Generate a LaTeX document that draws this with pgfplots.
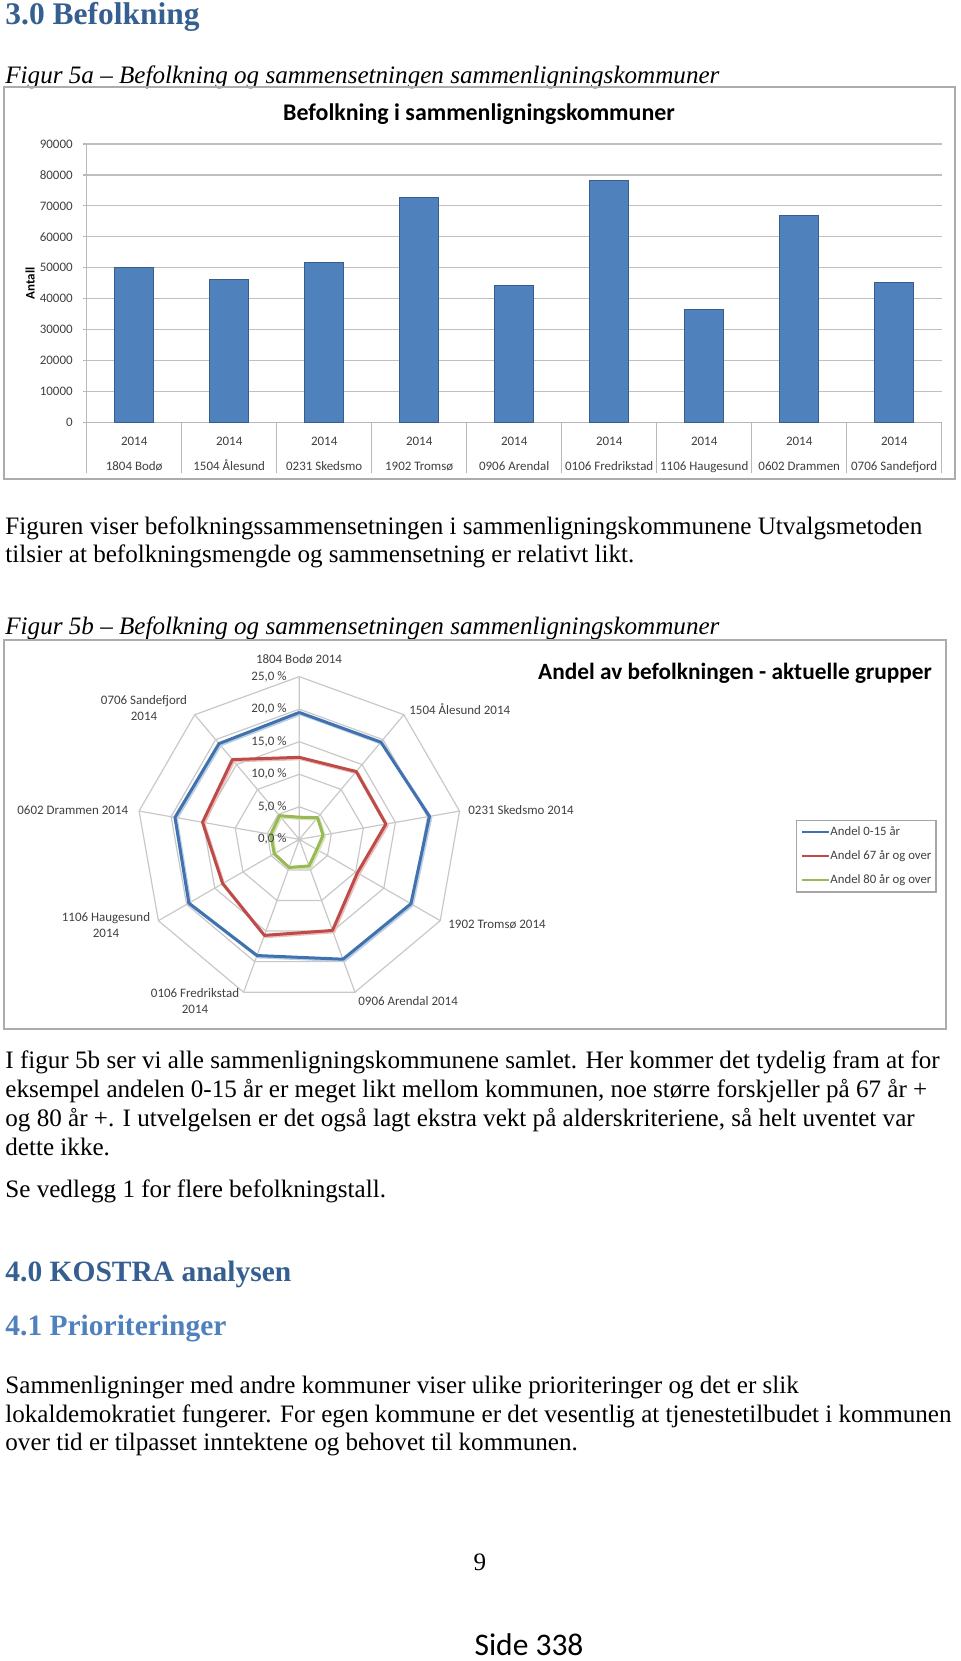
\documentclass[border=0pt]{standalone}
\usepackage{fontspec}
\setmainfont{Liberation Serif}
\newfontfamily\calibri{Carlito}
\usepackage{pgfplots}
\pgfplotsset{compat=1.18}
\definecolor{hone}{HTML}{365F91}
\definecolor{htwo}{HTML}{4F81BD}
\definecolor{barfill}{HTML}{4F81BD}
\definecolor{barline}{HTML}{385D8A}
\definecolor{sblue}{HTML}{3F72AF}
\definecolor{sred}{HTML}{BE4B48}
\definecolor{sgreen}{HTML}{98B954}
\definecolor{lgray}{HTML}{C8C8C8}
\definecolor{labgray}{HTML}{404040}
\newcommand{\bodyf}{\fontsize{12.6}{15}\selectfont}
\newcommand{\smallc}{\calibri\fontsize{6.5}{7}\selectfont}
\begin{document}
\begin{tikzpicture}[x=0.5bp,y=-0.5bp]
\useasboundingbox (0,0) rectangle (960,1661);
% ---------- page text ----------
\node[anchor=base west, inner sep=0, text=hone] at (5,24) {\fontsize{15.8}{18}\selectfont\bfseries 3.0 Befolkning};
\node[anchor=base west, inner sep=0] at (5,83) {\bodyf\itshape Figur 5a – Befolkning og sammensetningen sammenligningskommuner};
\node[anchor=base west, inner sep=0] at (5,534) {\bodyf Figuren viser befolkningssammensetningen i sammenligningskommunene Utvalgsmetoden};
\node[anchor=base west, inner sep=0] at (5,562) {\bodyf tilsier at befolkningsmengde og sammensetning er relativt likt.};
\node[anchor=base west, inner sep=0] at (5,634) {\bodyf\itshape Figur 5b – Befolkning og sammensetningen sammenligningskommuner};
\node[anchor=base west, inner sep=0] at (5,1068) {\bodyf I figur 5b ser vi alle sammenligningskommunene samlet. Her kommer det tydelig fram at for};
\node[anchor=base west, inner sep=0] at (5,1097) {\bodyf eksempel andelen 0-15 år er meget likt mellom kommunen, noe større forskjeller på 67 år +};
\node[anchor=base west, inner sep=0] at (5,1126) {\bodyf og 80 år +. I utvelgelsen er det også lagt ekstra vekt på alderskriteriene, så helt uventet var};
\node[anchor=base west, inner sep=0] at (5,1155) {\bodyf dette ikke.};
\node[anchor=base west, inner sep=0] at (5,1197) {\bodyf Se vedlegg 1 for flere befolkningstall.};
\node[anchor=base west, inner sep=0, text=hone] at (5,1281) {\fontsize{14.8}{18}\selectfont\bfseries 4.0 KOSTRA analysen};
\node[anchor=base west, inner sep=0, text=htwo] at (5,1335) {\fontsize{14.8}{17}\selectfont\bfseries 4.1 Prioriteringer};
\node[anchor=base west, inner sep=0] at (5,1393) {\bodyf Sammenligninger med andre kommuner viser ulike prioriteringer og det er slik};
\node[anchor=base west, inner sep=0] at (5,1422) {\bodyf lokaldemokratiet fungerer. For egen kommune er det vesentlig at tjenestetilbudet i kommunen};
\node[anchor=base west, inner sep=0] at (5,1450) {\bodyf over tid er tilpasset inntektene og behovet til kommunen.};
\node[anchor=base, inner sep=0] at (480,1570) {\bodyf 9};
\node[anchor=base, inner sep=0] at (529,1655) {\calibri\fontsize{15.8}{18}\selectfont Side 338};
% ---------- figure 5a ----------
\draw[gray!65, line width=0.75bp] (4,87) rectangle (955,479);
\node[inner sep=0] at (479,114) {\calibri\fontsize{12}{14}\selectfont\bfseries Befolkning i sammenligningskommuner};
\begin{axis}[
  at={(43.35bp,-211.15bp)}, anchor=south west, scale only axis,
  width=427.5bp, height=139.15bp,
  xmin=0, xmax=9, ymin=0, ymax=90000,
  axis x line*=bottom, axis y line*=left,
  axis line style={gray!55, line width=0.6bp},
  ytick={0,10000,...,90000}, ymajorgrids,
  major grid style={gray!50, line width=0.6bp},
  scaled y ticks=false,
  /pgf/number format/assume math mode=true,
  /pgf/number format/fixed, /pgf/number format/1000 sep={},
  yticklabel style={font=\smallc, text=labgray, xshift=-1.5bp},
  ytick style={gray!55, line width=0.6bp},
  tick align=outside, major tick length=2bp,
  xtick={0.5,1.5,...,8.5},
  xtick style={draw=none},
  xticklabels={{2014\\1804 Bodø},{2014\\1504 Ålesund},{2014\\0231 Skedsmo},{2014\\1902 Tromsø},{2014\\0906 Arendal},{2014\\0106 Fredrikstad},{2014\\1106 Haugesund},{2014\\0602 Drammen},{2014\\0706 Sandefjord}},
  xticklabel style={align=center, font=\calibri\fontsize{6.5}{12.6}\selectfont, text=labgray, yshift=-1.9bp},
  extra x ticks={0,1,...,9}, extra x tick labels={},
  extra x tick style={tick align=outside, major tick length=25.5bp, xtick style={draw=gray!55, line width=0.6bp}, grid=none},
  ylabel={Antall},
  ylabel style={font=\calibri\fontsize{6.5}{7}\selectfont\bfseries, at={(axis description cs:-0.0663,0.5)}, anchor=center},
]
\addplot[ybar, bar width=19.5bp, fill=barfill, draw=barline, line width=0.5bp]
  coordinates {(0.5,50100) (1.5,46200) (2.5,51600) (3.5,72600) (4.5,44200) (5.5,78200) (6.5,36400) (7.5,67000) (8.5,45200)};
\end{axis}
% ---------- figure 5b ----------
\draw[gray!65, line width=0.75bp] (4,640) rectangle (946,1029);
\node[inner sep=0] at (735,673) {\calibri\fontsize{11.7}{14}\selectfont\bfseries Andel av befolkningen - aktuelle grupper};
\begin{axis}[
  at={(149.65bp,-419.65bp)}, anchor=center, scale only axis,
  width=162.7bp, height=162.7bp,
  xmin=-25, xmax=25, ymin=-25, ymax=25,
  axis lines=none, clip=false,
  ring/.style={lgray, line width=0.6bp, data cs=polar, forget plot},
  legend style={at={(2.026,0.5593)}, anchor=north west, draw=gray!70, line width=0.6bp,
    font=\calibri\fontsize{6.4}{7}\selectfont, text=labgray,
    nodes={inner sep=0pt, text height=4.5bp, text depth=1.3bp},
    row sep=6.2bp, inner xsep=2.35bp, inner ysep=2.95bp},
  legend cell align=left,
  legend image code/.code={\draw[#1, line width=1bp] (0bp,0bp) -- (13.65bp,0bp);},
]
\addplot[ring] coordinates {(90,5) (50,5) (10,5) (-30,5) (-70,5) (-110,5) (-150,5) (170,5) (130,5) (90,5)};
\addplot[ring] coordinates {(90,10) (50,10) (10,10) (-30,10) (-70,10) (-110,10) (-150,10) (170,10) (130,10) (90,10)};
\addplot[ring] coordinates {(90,15) (50,15) (10,15) (-30,15) (-70,15) (-110,15) (-150,15) (170,15) (130,15) (90,15)};
\addplot[ring] coordinates {(90,20) (50,20) (10,20) (-30,20) (-70,20) (-110,20) (-150,20) (170,20) (130,20) (90,20)};
\addplot[ring] coordinates {(90,25) (50,25) (10,25) (-30,25) (-70,25) (-110,25) (-150,25) (170,25) (130,25) (90,25)};
\addplot[ring] coordinates {(90,25) (90,0) (50,25) (50,0) (10,25) (10,0) (-30,25) (-30,0) (-70,25) (-70,0) (-110,25) (-110,0) (-150,25) (-150,0) (170,25) (170,0) (130,25) (130,0)};
% shadows
\addplot[sblue!35, line width=1.5bp, data cs=polar, forget plot, xshift=0.7bp, yshift=-0.7bp]
  coordinates {(90,19.5) (50,19.5) (10,20.3) (-30,19.8) (-70,19.6) (-110,19.0) (-150,19.6) (170,19.4) (130,19.2) (90,19.5)};
\addplot[sred!35, line width=1.5bp, data cs=polar, forget plot, xshift=0.7bp, yshift=-0.7bp]
  coordinates {(90,12.6) (50,13.6) (10,13.5) (-30,10.3) (-70,14.9) (-110,15.7) (-150,13.6) (170,15.1) (130,16.0) (90,12.6)};
\addplot[sgreen!40, line width=1.5bp, data cs=polar, forget plot, xshift=0.7bp, yshift=-0.7bp]
  coordinates {(90,3.4) (50,4.35) (10,3.7) (-30,3.1) (-70,4.35) (-110,4.6) (-150,4.45) (170,4.45) (130,4.75) (90,3.4)};
% data
\addplot[sblue, line width=1.5bp, data cs=polar, line join=round]
  coordinates {(90,19.5) (50,19.5) (10,20.3) (-30,19.8) (-70,19.6) (-110,19.0) (-150,19.6) (170,19.4) (130,19.2) (90,19.5)};
\addlegendentry{Andel 0-15 år}
\addplot[sred, line width=1.5bp, data cs=polar, line join=round]
  coordinates {(90,12.6) (50,13.6) (10,13.5) (-30,10.3) (-70,14.9) (-110,15.7) (-150,13.6) (170,15.1) (130,16.0) (90,12.6)};
\addlegendentry{Andel 67 år og over}
\addplot[sgreen, line width=1.5bp, data cs=polar, line join=round]
  coordinates {(90,3.4) (50,4.35) (10,3.7) (-30,3.1) (-70,4.35) (-110,4.6) (-150,4.45) (170,4.45) (130,4.75) (90,3.4)};
\addlegendentry{Andel 80 år og over}
\end{axis}
% radar labels
\begin{scope}[every node/.style={inner sep=0, text=labgray, font=\smallc}]
\node[anchor=east] at (287,839.3) {0,0 \%};
\node[anchor=east] at (287,806.8) {5,0 \%};
\node[anchor=east] at (287,774.2) {10,0 \%};
\node[anchor=east] at (287,741.7) {15,0 \%};
\node[anchor=east] at (287,709.2) {20,0 \%};
\node[anchor=east] at (287,676.6) {25,0 \%};
\node at (299,659) {1804 Bodø 2014};
\node[anchor=west] at (409,709) {1504 Ålesund 2014};
\node[anchor=west] at (468,810) {0231 Skedsmo 2014};
\node[anchor=west] at (448,925) {1902 Tromsø 2014};
\node[anchor=west] at (358,1001) {0906 Arendal 2014};
\node[align=center, font=\calibri\fontsize{6.5}{8}\selectfont] at (195,1001) {0106 Fredrikstad\\2014};
\node[align=center, font=\calibri\fontsize{6.5}{8}\selectfont] at (106,925) {1106 Haugesund\\2014};
\node[anchor=west] at (17,810) {0602 Drammen 2014};
\node[align=center, font=\calibri\fontsize{6.5}{8}\selectfont] at (144,708) {0706 Sandefjord\\2014};
\end{scope}
\end{tikzpicture}
\end{document}
